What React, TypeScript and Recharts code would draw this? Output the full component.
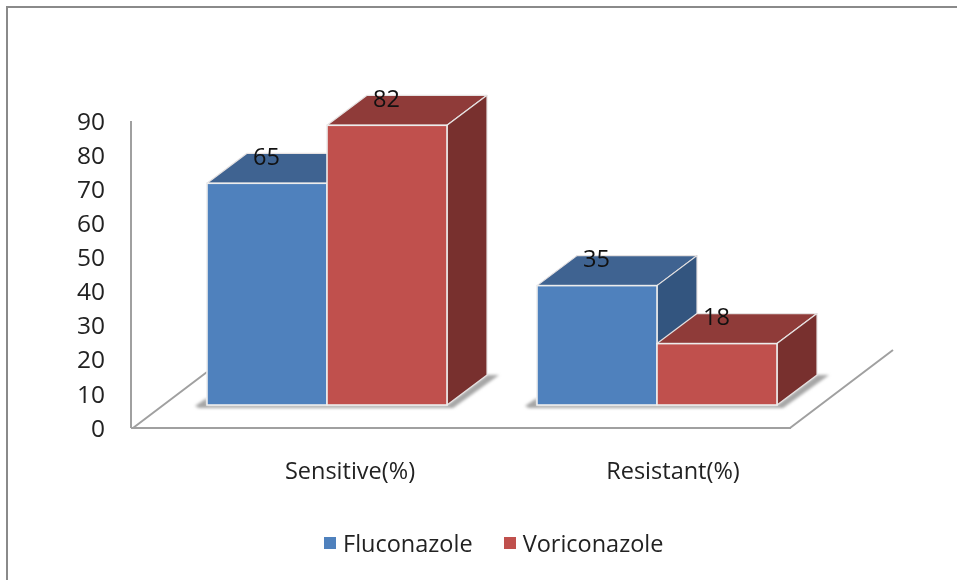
import React from "react";
import { ComposedChart, Bar, XAxis, YAxis, LabelList, Legend, Customized, usePlotArea } from "recharts";

const categories = ["Sensitive(%)", "Resistant(%)"];
const fluconazole = [65, 35];
const voriconazole = [82, 18];
const yTicks = [0, 10, 20, 30, 40, 50, 60, 70, 80, 90];
const seriesNames = ["Fluconazole", "Voriconazole"];

const data = categories.map((name, i) => ({ name, fluconazole: fluconazole[i], voriconazole: voriconazole[i] }));

const FONT = '"Open Sans", sans-serif';
const FONT_SIZE = 23.5;
const DX = 31; // bars sit on the chart floor, offset from the axis plane
const DY = -23;
const DEPTH_X = 40;
const DEPTH_Y = -30;
const X_LABEL_SHIFT = [54, 47];

const blue = { front: "#4F81BD", top: "#3F6391", side: "#33557F" };
const red = { front: "#C0504D", top: "#8F3B39", side: "#78302E" };

function Box3D(props: any, c: { front: string; top: string; side: string }) {
  const { x, y, width, height } = props;
  const l = x + DX;
  const r = l + width;
  const t = y + DY;
  const b = t + height;
  const pts = (a: number[][]) => a.map((p) => p.join(",")).join(" ");
  return (
    <g>
      <polygon points={pts([[l, t], [l + DEPTH_X, t + DEPTH_Y], [r + DEPTH_X, t + DEPTH_Y], [r, t]])} fill={c.top} stroke="#E6E2E2" strokeWidth={1.2} strokeLinejoin="round" />
      <polygon points={pts([[r, t], [r + DEPTH_X, t + DEPTH_Y], [r + DEPTH_X, b + DEPTH_Y], [r, b]])} fill={c.side} stroke="#E6E2E2" strokeWidth={1.2} strokeLinejoin="round" />
      <rect x={l} y={t} width={width} height={height} fill={c.front} stroke="#EDEDED" strokeWidth={1.6} />
    </g>
  );
}

function BarLabel(props: any) {
  const { x, y, width, value } = props;
  return (
    <text x={x + DX + width / 2 - 0.5} y={y + DY - 27.5} textAnchor="middle" dominantBaseline="central" fontFamily={FONT} fontSize={FONT_SIZE} fill="#111">
      {value}
    </text>
  );
}

function Floor() {
  const plot = usePlotArea();
  if (!plot) return null;
  const left = plot.x + 2;
  const right = left + 657;
  const bottom = plot.y + plot.height;
  const s = bottom + DY;
  const groups = [
    [plot.x + DX + 45, plot.x + DX + 45 + 240],
    [plot.x + DX + 375, plot.x + DX + 375 + 240],
  ];
  return (
    <g>
      <defs>
        <filter id="soft" x="-10%" y="-50%" width="120%" height="200%">
          <feGaussianBlur stdDeviation="1.6" />
        </filter>
      </defs>
      <path d={`M${left} ${bottom}L${left + 74} ${bottom - 56}M${right} ${bottom}L${right + 103} ${bottom - 78}`} stroke="#A0A0A0" strokeWidth={2} fill="none" />
      {groups.map(([a, b], i) => (
        <polygon
          key={i}
          filter="url(#soft)"
          fill="#A6A6A6"
          points={`${a - 12},${s + 1} ${a},${s - 7} ${a},${s} ${b},${s} ${b + DEPTH_X},${s + DEPTH_Y} ${b + DEPTH_X + 12},${s + DEPTH_Y} ${b + 6},${s + 3} ${a - 8},${s + 3}`}
        />
      ))}
    </g>
  );
}

function XTick(props: any) {
  const { x, y, payload, index } = props;
  return (
    <text x={x + X_LABEL_SHIFT[index]} y={y + 34} textAnchor="middle" dominantBaseline="central" fontFamily={FONT} fontSize={FONT_SIZE} fill="#222">
      {payload.value}
    </text>
  );
}

function LegendContent() {
  const colors = [blue.front, red.front];
  return (
    <div style={{ display: "flex", alignItems: "center", fontFamily: FONT, fontSize: FONT_SIZE, color: "#222", lineHeight: "30px" }}>
      {seriesNames.map((n, i) => (
        <span key={n} style={{ display: "flex", alignItems: "center", marginRight: i === 0 ? 31 : 0 }}>
          <span style={{ display: "inline-block", width: 12, height: 12, background: colors[i], marginRight: 7 }} />
          {n}
        </span>
      ))}
    </div>
  );
}

export default function App() {
  return (
    <div style={{ position: "absolute", left: 0, top: 0, width: 957, height: 580, background: "#fff", overflow: "hidden" }}>
      <div style={{ position: "absolute", left: 6, top: 6, width: 957, height: 580, borderLeft: "2px solid #8a8a8a", borderTop: "2px solid #8a8a8a" }} />
      <div style={{ position: "absolute", left: 0, top: 0, filter: "blur(0.55px)" }}>
        <ComposedChart width={957} height={580} data={data} margin={{ left: 0, right: 166, top: 121, bottom: 0 }} barGap={0} barCategoryGap={45}>
          <Customized component={Floor} />
          <XAxis dataKey="name" axisLine={{ stroke: "#A0A0A0", strokeWidth: 2 }} tickLine={false} tick={XTick} height={122} interval={0} />
          <YAxis domain={[0, 90]} ticks={yTicks} interval={0} width={131} axisLine={{ stroke: "#A0A0A0", strokeWidth: 2 }} tickLine={false} tickMargin={20} tick={{ fontFamily: FONT, fontSize: 24.5, fill: "#222", dy: 0 }} />
          <Bar dataKey="fluconazole" name={seriesNames[0]} isAnimationActive={false} fill={blue.front} shape={(p: any) => Box3D(p, blue)}>
            <LabelList dataKey="fluconazole" content={BarLabel} />
          </Bar>
          <Bar dataKey="voriconazole" name={seriesNames[1]} isAnimationActive={false} fill={red.front} shape={(p: any) => Box3D(p, red)}>
            <LabelList dataKey="voriconazole" content={BarLabel} />
          </Bar>
          <Legend content={LegendContent} wrapperStyle={{ position: "absolute", left: 324, top: 528, width: 420, bottom: "auto" }} />
        </ComposedChart>
      </div>
    </div>
  );
}
